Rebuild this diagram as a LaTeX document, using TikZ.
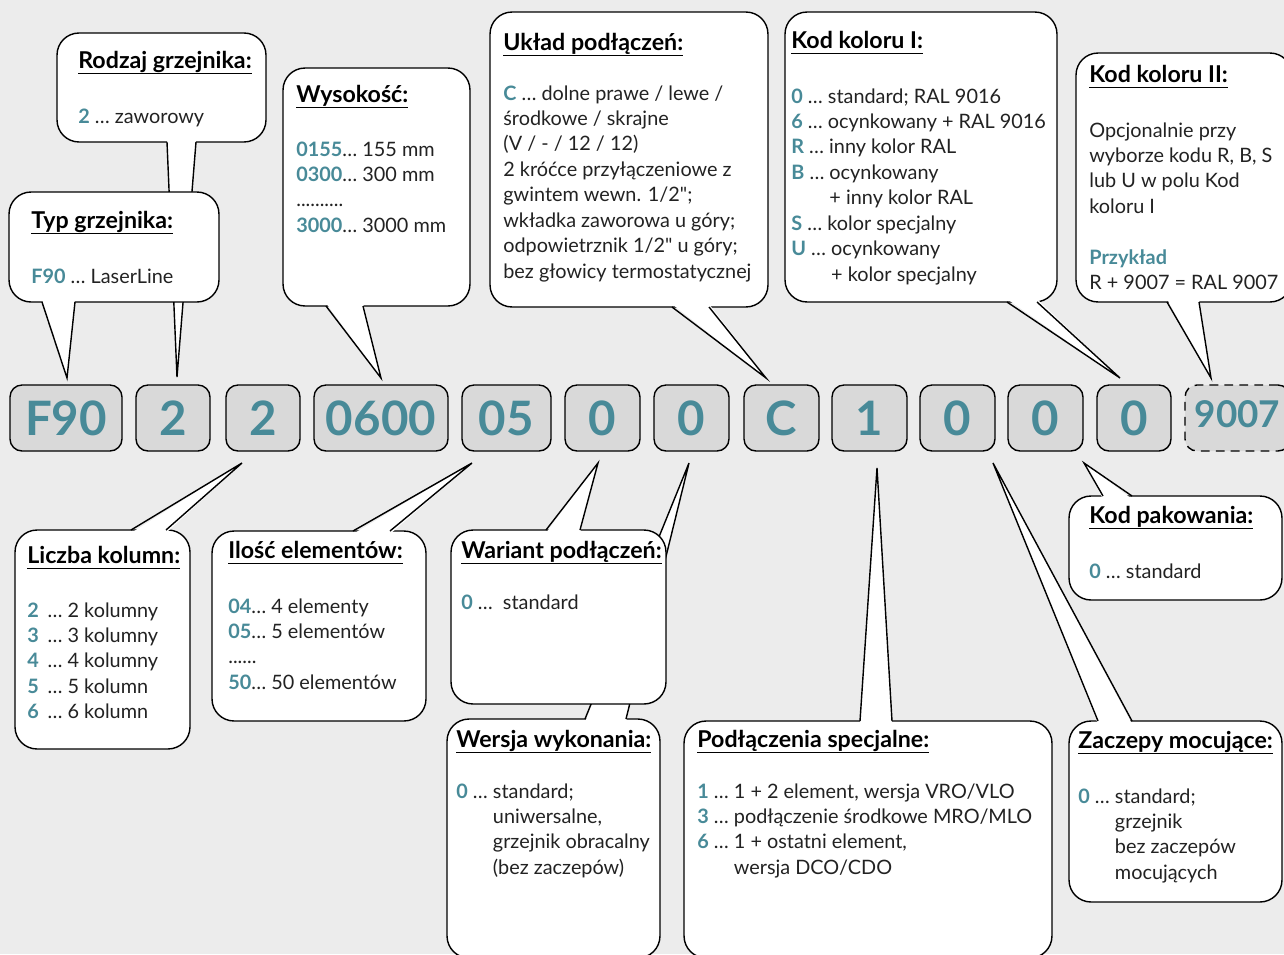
\documentclass[tikz,border=0pt]{standalone}
\usepackage{fontspec}
\setmainfont{Lato}
\usepackage{xcolor}
\usepackage{tikz}
\usetikzlibrary{positioning}

\definecolor{codeteal}{RGB}{72,138,152}
\definecolor{bggray}{RGB}{236,236,236}
\definecolor{boxgray}{RGB}{217,217,217}
\definecolor{textgray}{RGB}{34,34,34}

\newcommand\cval[1]{\textcolor{codeteal}{\bfseries #1}}
\newcommand\inch{{\addfontfeatures{Ligatures=TeXOff}"}}
\newcommand\ttline[1]{\setbox0=\hbox{#1}\rlap{\rule[-3.6pt]{\wd0}{0.7pt}}\box0}
\newcommand\tail[5]{%
  \fill[white] (#1,#4) -- (#5) -- (#2,#4) -- cycle;
  \draw[tailline] (#1,#3) -- (#5) -- (#2,#3);}

\begin{document}
\begin{tikzpicture}[
    x=0.02cm, y=-0.02cm,
    codebox/.style={draw, fill=boxgray, rounded corners=0.24cm, line width=0.8pt, minimum height=1.32cm, inner sep=0pt, text=codeteal, font=\fontsize{27}{30}\selectfont\bfseries},
    callbox/.style={draw, fill=white, rounded corners=0.44cm, line width=0.8pt, inner sep=0pt},
    tailline/.style={line width=0.8pt},
    ttl/.style={anchor=base west, inner sep=0pt, text=black, font=\fontsize{13.2}{15}\selectfont\bfseries},
    body/.style={anchor=base west, inner sep=0pt, text=textgray, font=\fontsize{11.3}{14.5}\selectfont}
]
\useasboundingbox (0,0) rectangle (1284,954);
\fill[bggray] (0,0) rectangle (1284,954);

\node[codebox, minimum width=2.24cm] (c1) at (66,418) {F90};
\node[codebox, minimum width=1.48cm] (c2) at (173,418) {2};
\node[codebox, minimum width=1.48cm] (c3) at (263,418) {2};
\node[codebox, minimum width=2.68cm] (c4) at (381,418) {0600};
\node[codebox, minimum width=1.78cm] (c5) at (506.5,418) {05};
\node[codebox, minimum width=1.5cm] (c6) at (602.5,418) {0};
\node[codebox, minimum width=1.5cm] (c7) at (691.5,418) {0};
\node[codebox, minimum width=1.5cm] (c8) at (781.5,418) {C};
\node[codebox, minimum width=1.5cm] (c9) at (869.5,418) {1};
\node[codebox, minimum width=1.5cm] (c10) at (957.5,418) {0};
\node[codebox, minimum width=1.5cm] (c11) at (1045.5,418) {0};
\node[codebox, minimum width=1.48cm] (c12) at (1134,418) {0};
\node[codebox, minimum width=2.1cm, dash pattern=on 5pt off 3.5pt, font=\fontsize{21}{24}\selectfont\bfseries] (c13) at (1237.5,418) {\raisebox{4pt}{9007}};

\coordinate (t-rodzaj) at (177,377);
\coordinate (t-typ) at (67,378);
\coordinate (t-wys) at (381,378);
\coordinate (t-uklad) at (766,378);
\coordinate (t-kol1) at (1120,378);
\coordinate (t-kol2) at (1211,378);
\coordinate (t-liczba) at (242,463);
\coordinate (t-ilosc) at (472,463);
\coordinate (t-wariant) at (598,463);
\coordinate (t-wersja) at (689,463);
\coordinate (t-podl) at (877,468);
\coordinate (t-zacz) at (993,463);
\coordinate (t-pak) at (1084,463);

\node[callbox, minimum width=4.18cm, minimum height=2.18cm] (rodzaj) at (161.5,87.5) {};
\tail{167}{196}{142}{139}{t-rodzaj}
\node[ttl] (rodzaj-t) at (78,68) {\ttline{Rodzaj grzejnika:}};
\node[body] (rodzaj-b) at (78,123) {\cval{2} … zaworowy};

\node[callbox, minimum width=4.2cm, minimum height=2.2cm] (typ) at (114,247) {};
\tail{42}{75}{302}{299}{t-typ}
\node[ttl] (typ-t) at (31,228) {\ttline{Typ grzejnika:}};
\node[body] (typ-b) at (31,283) {\cval{F90} … LaserLine};

\node[callbox, minimum width=3.74cm, minimum height=4.76cm] (wys) at (376.5,187) {};
\tail{326}{363}{306}{303}{t-wys}
\node[ttl] (wys-t) at (296,102) {\ttline{Wysokość:}};
\node[body] (wys-b) at (296,156) {\begin{tabular}[t]{@{}l@{}}
\cval{0155}… 155 mm\\
\cval{0300}… 300 mm\\
..........\\
\cval{3000}… 3000 mm
\end{tabular}};

\node[callbox, minimum width=5.56cm, minimum height=5.9cm] (uklad) at (629,159.5) {};
\tail{672}{709}{307}{304}{t-uklad}
\node[ttl] (uklad-t) at (503,50) {\ttline{Układ podłączeń:}};
\node[body] (uklad-b) at (503,100) {\begin{tabular}[t]{@{}l@{}}
\cval{C} … dolne prawe / lewe /\\
środkowe / skrajne\\
(V / - / 12 / 12)\\
2 króćce przyłączeniowe z\\
gwintem wewn. 1/2\inch;\\
wkładka zaworowa u góry;\\
odpowietrznik 1/2\inch{} u góry;\\
bez głowicy termostatycznej
\end{tabular}};

\node[callbox, minimum width=5.44cm, minimum height=5.8cm] (kol1) at (921,157) {};
\tail{1007}{1037}{302}{299}{t-kol1}
\node[ttl] (kol1-t) at (791,48) {\ttline{Kod koloru I:}};
\node[body] (kol1-b) at (791,103) {\begin{tabular}[t]{@{}l@{}}
\cval{0} … standard; RAL 9016\\
\cval{6} … ocynkowany + RAL 9016\\
\cval{R} … inny kolor RAL\\
\cval{B} … ocynkowany\\
\phantom{\cval{B} … }+ inny kolor RAL\\
\cval{S} … kolor specjalny\\
\cval{U} … ocynkowany\\
\phantom{\cval{U} … }+ kolor specjalny
\end{tabular}};

\node[callbox, minimum width=4.32cm, minimum height=4.98cm] (kol2) at (1184,177.5) {};
\tail{1167}{1199}{302}{299}{t-kol2}
\node[ttl] (kol2-t) at (1089,82) {\ttline{Kod koloru II:}};
\node[body] (kol2-b) at (1089,137) {\begin{tabular}[t]{@{}l@{}}
Opcjonalnie przy\\
wyborze kodu R, B, S\\
lub U w polu Kod\\
koloru I\\
\\
\cval{Przykład}\\
R + 9007 = RAL 9007
\end{tabular}};

\node[callbox, minimum width=3.5cm, minimum height=4.38cm] (liczba) at (102.5,639.5) {};
\tail{131}{166}{530}{533}{t-liczba}
\node[ttl] (liczba-t) at (27,563) {\ttline{Liczba kolumn:}};
\node[body] (liczba-b) at (27,617) {\begin{tabular}[t]{@{}l@{}}
\cval{2}\hspace{5pt}… 2 kolumny\\
\cval{3}\hspace{5pt}… 3 kolumny\\
\cval{4}\hspace{5pt}… 4 kolumny\\
\cval{5}\hspace{5pt}… 5 kolumn\\
\cval{6}\hspace{5pt}… 6 kolumn
\end{tabular}};

\node[callbox, minimum width=4.28cm, minimum height=3.8cm] (ilosc) at (319,626) {};
\tail{353}{390}{531}{534}{t-ilosc}
\node[ttl] (ilosc-t) at (228,558) {\ttline{Ilość elementów:}};
\node[body] (ilosc-b) at (228,613) {\begin{tabular}[t]{@{}l@{}}
\cval{04}… 4 elementy\\
\cval{05}… 5 elementów\\
......\\
\cval{50}… 50 elementów
\end{tabular}};

\node[callbox, minimum width=4.26cm, minimum height=4.78cm] (wersja) at (553.5,838.5) {};
\tail{585}{626}{719}{722}{t-wersja}
\node[ttl] (wersja-t) at (456,747) {\ttline{Wersja wykonania:}};
\node[body] (wersja-b) at (456,798) {\begin{tabular}[t]{@{}l@{}}
\cval{0} … standard;\\
\phantom{\cval{0} … }uniwersalne,\\
\phantom{\cval{0} … }grzejnik obracalny\\
\phantom{\cval{0} … }(bez zaczepów)
\end{tabular}};

\node[callbox, minimum width=4.3cm, minimum height=3.48cm] (wariant) at (558.5,617) {};
\tail{546}{580}{530}{533}{t-wariant}
\node[ttl] (wariant-t) at (461,558) {\ttline{Wariant podłączeń:}};
\node[body] (wariant-b) at (461,609) {\cval{0} …\ \ standard};

\node[callbox, minimum width=7.36cm, minimum height=4.74cm] (podl) at (868,839.5) {};
\tail{860}{892}{721}{724}{t-podl}
\node[ttl] (podl-t) at (697,747) {\ttline{Podłączenia specjalne:}};
\node[body] (podl-b) at (697,798) {\begin{tabular}[t]{@{}l@{}}
\cval{1} … 1 + 2 element, wersja VRO/VLO\\
\cval{3} … podłączenie środkowe MRO/MLO\\
\cval{6} … 1 + ostatni element,\\
\phantom{\cval{6} … }wersja DCO/CDO
\end{tabular}};

\node[callbox, minimum width=4.26cm, minimum height=3.62cm] (zacz) at (1175.5,811.5) {};
\tail{1098}{1132}{721}{724}{t-zacz}
\node[ttl] (zacz-t) at (1078,748) {\ttline{Zaczepy mocujące:}};
\node[body] (zacz-b) at (1078,803) {\begin{tabular}[t]{@{}l@{}}
\cval{0} … standard;\\
\phantom{\cval{0} … }grzejnik\\
\phantom{\cval{0} … }bez zaczepów\\
\phantom{\cval{0} … }mocujących
\end{tabular}};

\node[callbox, minimum width=4.26cm, minimum height=2.08cm] (pak) at (1175.5,548) {};
\tail{1103}{1132}{496}{499}{t-pak}
\node[ttl] (pak-t) at (1089,523) {\ttline{Kod pakowania:}};
\node[body] (pak-b) at (1089,578) {\cval{0} … standard};
\end{tikzpicture}
\end{document}
